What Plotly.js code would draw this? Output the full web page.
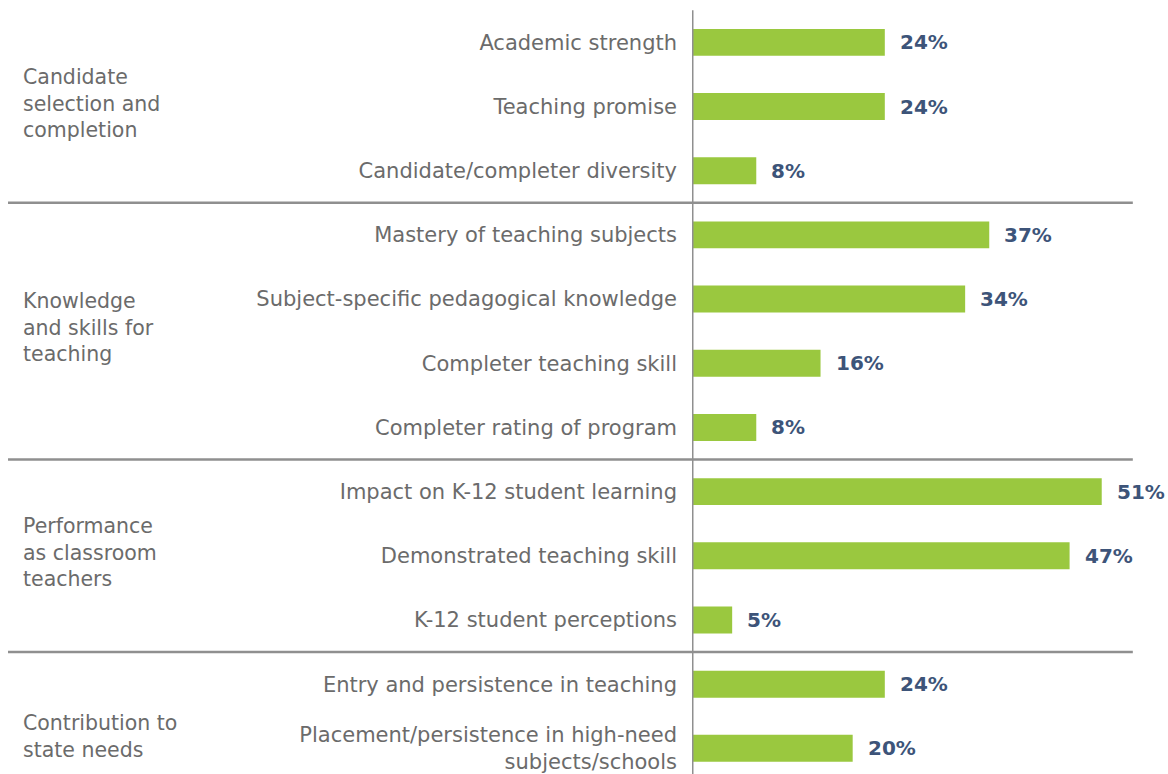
<!DOCTYPE html>
<html>
<head>
<meta charset="utf-8">
<script src="https://cdn.plot.ly/plotly-3.0.1.min.js"></script>
<style>html,body{margin:0;padding:0;background:#fff;}#chart{width:1168px;height:774px;}</style>
</head>
<body>
<div id="chart"></div>
<script>
// ---- data ----
const categories = [
  "Academic strength",
  "Teaching promise",
  "Candidate/completer diversity",
  "Mastery of teaching subjects",
  "Subject-specific pedagogical knowledge",
  "Completer teaching skill",
  "Completer rating of program",
  "Impact on K-12 student learning",
  "Demonstrated teaching skill",
  "K-12 student perceptions",
  "Entry and persistence in teaching",
  "Placement/persistence in high-need<br>subjects/schools"
];
const values = [24, 24, 8, 37, 34, 16, 8, 51, 47, 5, 24, 20];
const groupNames = [
  "Candidate<br>selection and<br>completion",
  "Knowledge<br>and skills for<br>teaching",
  "Performance<br>as classroom<br>teachers",
  "Contribution to<br>state needs"
];
const groupSizes = [3, 4, 3, 2];

// ---- styling / layout ----
const barColor = "#9AC83F";
const labelColor = "#6b6b6b";
const valueColor = "#3D5479";
const lineColor = "#8f8f8f";
const FONT = "'DejaVu Sans', sans-serif";

const trace = {
  type: "bar",
  orientation: "h",
  y: categories,
  x: values,
  marker: {color: barColor},
  width: 0.42,
  hoverinfo: "x+y"
};

const annotations = values.map((v, i) => ({
  x: v, y: categories[i], xref: "x", yref: "y",
  text: v + "%", showarrow: false, xanchor: "left", yanchor: "middle",
  xshift: 13,
  font: {family: FONT, size: 20, color: valueColor, weight: 700}
}));

// group label placement (vertical positions in category units, layout only)
const groupLabelY = [0.96, 4.45, 7.95, 10.82];
groupNames.forEach((g, k) => {
  annotations.push({
    x: -1.4156, xref: "paper", y: groupLabelY[k], yref: "y",
    text: g, showarrow: false, xanchor: "left", yanchor: "middle", align: "left",
    font: {family: FONT, size: 20.5, color: labelColor}
  });
});

// separator lines between groups
const shapes = [];
let idx = 0;
for (let k = 0; k < groupSizes.length - 1; k++) {
  idx += groupSizes[k];
  shapes.push({
    type: "line", xref: "paper", yref: "y",
    x0: -1.443, x1: 0.93, y0: idx - 0.5, y1: idx - 0.5,
    line: {color: lineColor, width: 2.5}
  });
}
// vertical axis line
shapes.push({
  type: "line", xref: "x", yref: "y",
  x0: 0, x1: 0, y0: -0.5, y1: 11.5,
  line: {color: lineColor, width: 3}
});

const layout = {
  width: 1168, height: 774,
  margin: {l: 692, r: 2, t: 0, b: 0},
  paper_bgcolor: "#fff", plot_bgcolor: "#fff",
  showlegend: false,
  bargap: 0.58,
  xaxis: {range: [0, 59], visible: false, fixedrange: true},
  yaxis: {
    type: "category",
    range: [11.40, -0.66],
    showline: false, showgrid: false, zeroline: false, ticks: "",
    ticklabelstandoff: 14,
    tickfont: {family: FONT, size: 21, color: labelColor},
    fixedrange: true
  },
  annotations: annotations,
  shapes: shapes
};

Plotly.newPlot("chart", [trace], layout, {displayModeBar: false, staticPlot: true});
</script>
</body>
</html>
